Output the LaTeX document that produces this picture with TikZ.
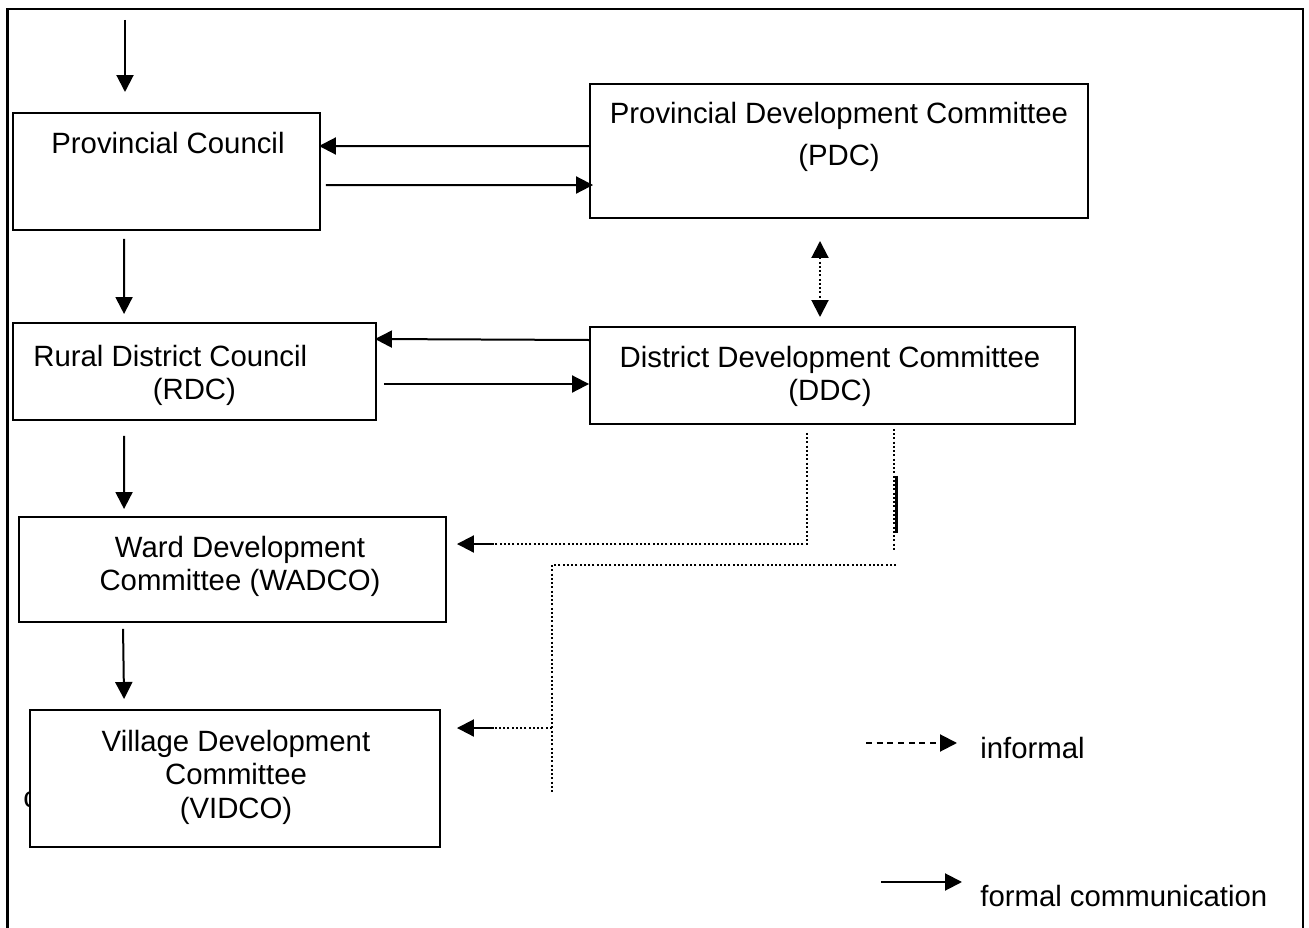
\documentclass[tikz,border=0pt]{standalone}
\usepackage{fontspec}
\setmainfont{Liberation Sans}
\usetikzlibrary{arrows.meta,calc}
\tikzset{
  box/.style={draw, line width=0.04cm, fill=white, inner sep=0pt},
  lbl/.style={inner sep=0pt, align=center, font=\fontsize{16.7}{19}\selectfont},
  tip/.style={-{Triangle[length=0.34cm,width=0.34cm]}},
  formal/.style={tip, line width=0.04cm},
  informal/.style={line width=0.04cm, dash pattern=on 0.04cm off 0.045cm},
  legenddash/.style={tip, line width=0.04cm, dash pattern=on 0.12cm off 0.094cm},
}
\begin{document}
\begin{tikzpicture}[x=0.02cm, y=-0.02cm]
\useasboundingbox (0,0) rectangle (1309,928);
% frame, open at the bottom
\draw[line width=0.05cm] (7.5,928) -- (7.5,9) -- (1303,9) -- (1303,928);

% boxes
\node[lbl, anchor=west] (cut) at (23,800) {c};
\node[box, minimum width=6.14cm, minimum height=2.34cm] (pc) at (166.5,171.5) {};
\node[box, minimum width=9.96cm, minimum height=2.68cm] (pdc) at (839,151) {};
\node[box, minimum width=7.26cm, minimum height=1.94cm] (rdc) at (194.5,371.5) {};
\node[box, minimum width=9.70cm, minimum height=1.94cm] (ddc) at (832.5,375.5) {};
\node[box, minimum width=8.54cm, minimum height=2.10cm] (wadco) at (232.5,569.5) {};
\node[box, minimum width=8.20cm, minimum height=2.74cm] (vidco) at (235,778.5) {};

% texts
\node[lbl, anchor=north] (pc-t) at (168,132) {Provincial Council};
\node[lbl, anchor=north] (pdc-t) at (839,102) {Provincial Development Committee\\[4.8pt](PDC)};
\node[lbl, anchor=north west, align=left] (rdc-t) at (33,345) {Rural District Council\\\hspace*{2.39cm}(RDC)};
\node[lbl, anchor=north] (ddc-t) at (830,346) {District Development Committee\\(DDC)};
\node[lbl, anchor=north] (wadco-t) at (240,536) {Ward Development\\Committee (WADCO)};
\node[lbl, anchor=north] (vidco-t) at (236,730) {Village Development\\Committee\\(VIDCO)};

% formal links
\coordinate (in) at (125,20);
\draw[formal] (in) -- ($(in |- pc.north)+(0,-20)$);
\draw[formal] ($(pdc.north west)+(0,63)$) -- ($(pc.north east)+(-2,34)$);
\draw[formal] ($(pc.north east)+(5,73)$) -- ($(pdc.north west)+(4,102)$);
\draw[formal] ($(pc.south west)+(112,8)$) -- ($(rdc.north west)+(112,-8)$);
\draw[formal] ($(ddc.north west)+(0,14)$) -- ($(rdc.north east)+(-2,17)$);
\draw[formal] ($(rdc.north east)+(7,62)$) -- ($(ddc.north west)+(0,58)$);
\draw[formal] ($(rdc.south west)+(112,15)$) -- ($(wadco.north west)+(106,-7)$);
\draw[formal] ($(wadco.south west)+(105,6)$) -- ($(vidco.north west)+(95,-10)$);

% informal links
\draw[informal, {Triangle[length=0.34cm,width=0.34cm]}-{Triangle[length=0.34cm,width=0.34cm]}]
  ($(pdc.south)+(-19,22)$) -- ($(ddc.north)+(-12.5,-9)$);

\coordinate (d1) at ($(ddc.south west)+(218,8)$);
\coordinate (w1) at ($(wadco.north east)+(47,28)$);
\draw[informal] (d1) |- (w1);
\draw[formal] (w1) -- ($(wadco.north east)+(10,28)$);

\coordinate (d2) at ($(ddc.south west)+(305,4)$);
\draw[informal] (d2) -- ++(0,123);
\draw[line width=0.06cm] ($(d2)+(2,47)$) -- ++(0,57);
\coordinate (k1) at ($(d2)+(2,136)$);
\coordinate (k2) at ($(vidco.north east)+(111,83)$);
\draw[informal] (k1) -| (k2);
\coordinate (v1) at ($(vidco.north east)+(53,19)$);
\draw[informal] (k2 |- v1) -- (v1);
\draw[formal] (v1) -- ($(vidco.north east)+(16,19)$);

% legend
\coordinate (inf-a) at (866,743);
\coordinate (inf-b) at (957,743);
\draw[legenddash] (inf-a) -- (inf-b);
\node[lbl, anchor=west] (inf-t) at (980,748) {informal};
\coordinate (for-a) at (881,882);
\coordinate (for-b) at (962,882);
\draw[formal] (for-a) -- (for-b);
\node[lbl, anchor=west] (for-t) at (980,896) {formal communication};
\end{tikzpicture}
\end{document}
